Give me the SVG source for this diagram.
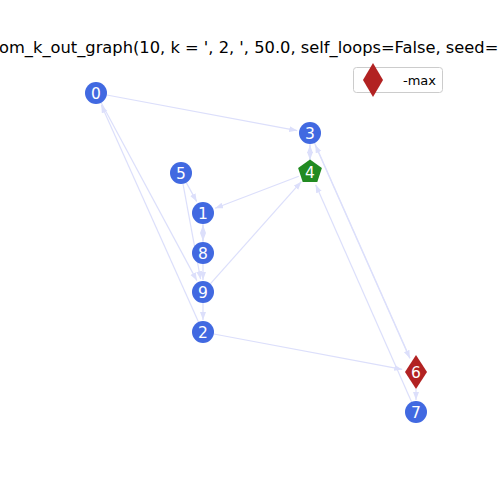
<svg xmlns="http://www.w3.org/2000/svg" width="500" height="500" viewBox="0 0 500 500">
<style>
.e{stroke:#dcdffb;stroke-width:1.2;fill:none;marker-end:url(#ah)}
.n{fill:#4169e1}
.l{font-family:"DejaVu Sans",sans-serif;font-size:15.5px;fill:#fff;text-anchor:middle}
.t{font-family:"DejaVu Sans",sans-serif;font-size:16.3px;fill:#000}
</style>
<defs>
<marker id="ah" markerUnits="userSpaceOnUse" markerWidth="9" markerHeight="7" refX="8" refY="3" orient="auto">
<path d="M0,0 L8,3 L0,6 z" fill="#dcdffb"/>
</marker>
</defs>
<rect width="500" height="500" fill="#fff"/>
<text class="t" x="-1" y="53">om_k_out_graph(10, k = ', 2, ', 50.0, self_loops=False, seed=</text>
<g id="edges">
<line class="e" x1="106.8" y1="95" x2="297.2" y2="130.6"/>
<line class="e" x1="101.2" y1="102.7" x2="196.9" y2="280.6"/>
<line class="e" x1="198.5" y1="322" x2="101.3" y2="104.9"/>
<line class="e" x1="186.3" y1="182.6" x2="196.7" y2="201.6"/>
<line class="e" x1="183" y1="183.8" x2="200.6" y2="279.2"/>
<line class="e" x1="298.8" y1="176.3" x2="215.1" y2="208.3"/>
<line class="e" x1="203" y1="224" x2="203" y2="241"/>
<line class="e" x1="203" y1="242" x2="203" y2="225"/>
<line class="e" x1="203" y1="264" x2="203" y2="280"/>
<line class="e" x1="203" y1="303" x2="203" y2="320"/>
<line class="e" x1="210.3" y1="283.8" x2="301.3" y2="181.7"/>
<line class="e" x1="310" y1="144" x2="310" y2="160"/>
<line class="e" x1="310" y1="160" x2="310" y2="145"/>
<line class="e" x1="314.5" y1="143.1" x2="409.9" y2="358.3"/>
<line class="e" x1="409.9" y1="358.3" x2="315.3" y2="144.9"/>
<line class="e" x1="411.6" y1="401.9" x2="315.7" y2="184.8"/>
<line class="e" x1="213.8" y1="334" x2="402.2" y2="369.4"/>
<line class="e" x1="416" y1="389" x2="416" y2="400"/>
</g>
<g id="n0"><circle class="n" cx="96" cy="93" r="11"/><text class="l" x="96" y="98.5">0</text></g>
<g id="n3"><circle class="n" cx="310" cy="133" r="11"/><text class="l" x="310" y="138.5">3</text></g>
<g id="n5"><circle class="n" cx="181" cy="173" r="11"/><text class="l" x="181" y="178.5">5</text></g>
<g id="n4"><polygon points="310,159.5 321.9,168.1 317.3,182.1 302.7,182.1 298.1,168.1" fill="#228b22"/><text class="l" x="310" y="177.5">4</text></g>
<g id="n1"><circle class="n" cx="203" cy="213" r="11"/><text class="l" x="203" y="218.5">1</text></g>
<g id="n8"><circle class="n" cx="203" cy="253" r="11"/><text class="l" x="203" y="258.5">8</text></g>
<g id="n9"><circle class="n" cx="203" cy="292" r="11"/><text class="l" x="203" y="297.5">9</text></g>
<g id="n2"><circle class="n" cx="203" cy="332" r="11"/><text class="l" x="203" y="337.5">2</text></g>
<g id="n6"><polygon points="416,355 427,372 416,389 405,372" fill="#b22222"/><text class="l" x="416" y="377.5">6</text></g>
<g id="n7"><circle class="n" cx="416" cy="412" r="11"/><text class="l" x="416" y="417.5">7</text></g>
<g id="legend">
<rect x="353.5" y="67.5" width="89" height="25" rx="3" fill="#fff" fill-opacity="0.8" stroke="#ccc"/>
<polygon points="373,63 383,80 373,97 363,80" fill="#b22222"/>
<text x="403" y="85" style="font-family:'DejaVu Sans',sans-serif;font-size:13px;fill:#000">-max</text>
</g>
</svg>
